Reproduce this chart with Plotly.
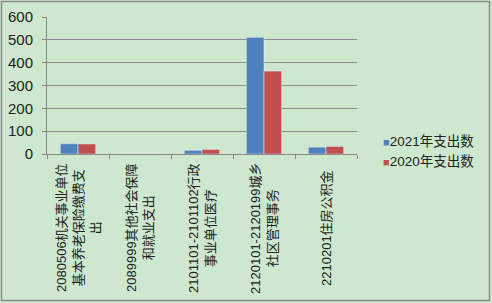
import plotly.graph_objects as go

categories = [
    "2080506机关事业单位基本养老保险缴费支出",
    "2089999其他社会保障和就业支出",
    "2101101-2101102行政事业单位医疗",
    "2120101-2120199城乡社区管理事务",
    "2210201住房公积金",
]
tick_labels = [
    "2080506机关事业单位<br>基本养老保险缴费支<br>出",
    "2089999其他社会保障<br>和就业支出",
    "2101101-2101102行政<br>事业单位医疗",
    "2120101-2120199城乡<br>社区管理事务",
    "2210201住房公积金",
]
series_2021 = [45, 0, 16, 511, 30]
series_2020 = [44, 0, 20, 363, 33]
series_names = ["2021年支出数", "2020年支出数"]
colors = ["#4f81bd", "#c0504d"]

FONT = "Liberation Sans, Noto Sans CJK SC, sans-serif"
W, H = 492, 303
L, R, T, B = 47, 135, 17, 149
pw, ph = W - L - R, H - T - B

fig = go.Figure()
fig.add_bar(x=categories, y=series_2021, name=series_names[0], marker_color=colors[0], showlegend=False)
fig.add_bar(x=categories, y=series_2020, name=series_names[1], marker_color=colors[1], showlegend=False)

anns = []
for i, (nm, c) in enumerate(zip(series_names, colors)):
    yc = 141 + 20 * i
    anns.append(dict(
        xref="paper", yref="paper", x=(381 - L) / pw, y=(T + ph - yc) / ph,
        xanchor="left", yanchor="middle", showarrow=False,
        text=f"<span style='color:{c};font-size:11px'>■</span>{nm}",
        font=dict(size=13.5, family=FONT, color="#222"),
    ))
# category labels, rotated and centre-aligned like the original
label_center_px = 228
for cat, lab in zip(categories, tick_labels):
    anns.append(dict(
        xref="x", yref="paper", x=cat, y=(T + ph - label_center_px) / ph,
        xanchor="center", yanchor="middle", showarrow=False,
        text=lab, textangle=-90, align="center",
        font=dict(size=13, family=FONT, color="#222"),
    ))

fig.update_layout(
    width=W, height=H,
    margin=dict(l=L, r=R, t=T, b=B),
    paper_bgcolor="#cde8cf",
    plot_bgcolor="#cde8cf",
    barmode="group",
    bargap=0.43,
    bargroupgap=0,
    font=dict(family=FONT, size=13, color="#222"),
    showlegend=False,
    annotations=anns,
    shapes=[dict(
        type="rect", xref="paper", yref="paper",
        x0=-(L - 1.5) / pw, x1=1 + (R - 2.5) / pw,
        y0=-(B - 2.5) / ph, y1=1 + (T - 1.5) / ph,
        line=dict(color="#8a8a8a", width=1.5), fillcolor="rgba(0,0,0,0)",
    )],
)
fig.update_xaxes(
    type="category", tickson="boundaries", showticklabels=False,
    ticks="outside", ticklen=4, tickcolor="#888", automargin=False,
    showline=True, linecolor="#888", linewidth=1,
)
fig.update_yaxes(
    range=[0, 600], dtick=100, showgrid=True, gridcolor="#8c8c8c", gridwidth=1,
    showline=True, linecolor="#888", ticks="outside", ticklen=4, tickcolor="#888",
    automargin=False, ticklabelstandoff=6,
    tickfont=dict(size=15, family=FONT, color="#222"), zeroline=False,
)
fig.write_html("out.html")
